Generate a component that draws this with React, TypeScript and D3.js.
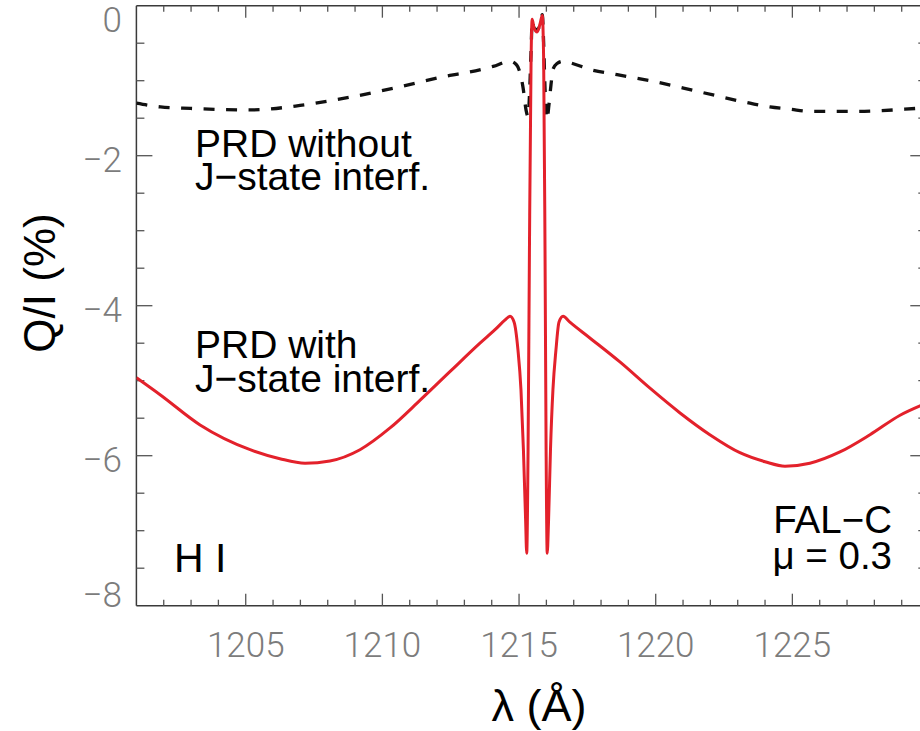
import React, { useEffect, useRef } from "react";
import * as d3 from "d3";

// wavelength grid (Å) and Q/I (%)
const redLambda = [
  1201.0, 1201.88, 1203.33, 1205.16, 1206.25, 1207.17, 1208.08, 1209.18, 1210.28,
  1211.38, 1212.47, 1213.57, 1214.12, 1214.49, 1214.67, 1214.82, 1214.96, 1215.07,
  1215.16, 1215.24, 1215.28, 1215.33, 1215.38, 1215.44, 1215.48, 1215.55, 1215.66,
  1215.77, 1215.85, 1215.9, 1215.95, 1215.99, 1216.03, 1216.08, 1216.15, 1216.24,
  1216.35, 1216.46, 1216.61, 1216.86, 1217.59, 1218.69, 1219.79, 1220.89, 1221.98,
  1223.08, 1224.0, 1224.73, 1225.64, 1226.74, 1227.84, 1228.94, 1229.9,
];
const redQI = [
  -4.96, -5.19, -5.59, -5.92, -6.04, -6.1, -6.07, -5.92, -5.63,
  -5.26, -4.88, -4.5, -4.32, -4.19, -4.14, -4.22, -4.59, -5.12,
  -5.92, -6.86, -7.3, -5.92, -3.26, -0.72, -0.18, -0.3, -0.35,
  -0.24, -0.13, -0.72, -3.26, -5.92, -7.3, -6.86, -5.92, -5.12,
  -4.59, -4.22, -4.14, -4.22, -4.43, -4.75, -5.1, -5.43, -5.72,
  -5.96, -6.08, -6.14, -6.1, -5.95, -5.72, -5.46, -5.3,
];

const dashLambda = [
  1201.0, 1201.88, 1202.98, 1205.16, 1206.99, 1208.82, 1210.65, 1212.47, 1213.1,
  1214.05, 1214.67, 1214.91, 1215.04, 1215.15, 1215.26, 1215.33, 1215.38, 1215.44,
  1215.48, 1215.55, 1215.66, 1215.77, 1215.85, 1215.9, 1215.95, 1216.02, 1216.1,
  1216.17, 1216.24, 1216.39, 1216.61, 1216.75, 1217.7, 1218.59, 1219.79, 1221.62,
  1223.45, 1224.18, 1224.91, 1225.64, 1226.37, 1227.29, 1228.2, 1229.11, 1229.9,
];
const dashQI = [
  -1.3, -1.35, -1.37, -1.39, -1.33, -1.22, -1.08, -0.93, -0.89,
  -0.81, -0.74, -0.79, -0.9, -1.1, -1.4, -1.48, -1.2, -0.6,
  -0.2, -0.3, -0.32, -0.25, -0.12, -0.5, -1.1, -1.52, -1.3,
  -1.05, -0.85, -0.77, -0.74, -0.75, -0.86, -0.92, -1.0, -1.15,
  -1.3, -1.35, -1.38, -1.41, -1.41, -1.41, -1.4, -1.38, -1.36,
];

const xTicks = [1205, 1210, 1215, 1220, 1225];
const yTicks = [0, -2, -4, -6, -8];

const W = 920;
const H = 731;

const App = () => {
  const ref = useRef<SVGSVGElement | null>(null);

  useEffect(() => {
    const svg = d3.select(ref.current);
    svg.selectAll("*").remove();

    const left = 136.4,
      right = 926.3,
      top = 5.7,
      bottom = 605.7;

    const x = d3.scaleLinear().domain([1201, 1229.9]).range([left, right]);
    const y = d3.scaleLinear().domain([-8, 0]).range([bottom, top]);

    const axisColor = "#3a3a3a";
    const labelFont = "Roboto, 'Open Sans', 'Liberation Sans', sans-serif";
    const textFont = "'Liberation Sans', Arial, sans-serif";

    // frame
    const frame = svg.append("g").attr("stroke", axisColor).attr("stroke-width", 1.5);
    frame.append("line").attr("x1", left).attr("x2", right).attr("y1", top).attr("y2", top);
    frame.append("line").attr("x1", left).attr("x2", right).attr("y1", bottom).attr("y2", bottom);
    frame.append("line").attr("x1", left).attr("x2", left).attr("y1", top).attr("y2", bottom);
    frame.append("line").attr("x1", right).attr("x2", right).attr("y1", top).attr("y2", bottom);

    // x ticks (bottom + top, pointing inward)
    const xMinor = d3.range(1202, 1230, 1);
    const ticks = svg.append("g").attr("stroke", "#555").attr("stroke-width", 1.3);
    xMinor.forEach((v) => {
      const len = v % 5 === 0 ? 12 : 6;
      ticks.append("line").attr("x1", x(v)).attr("x2", x(v)).attr("y1", bottom).attr("y2", bottom - len);
      ticks.append("line").attr("x1", x(v)).attr("x2", x(v)).attr("y1", top).attr("y2", top + len);
    });

    // y ticks (left + right)
    const yMinor = d3.range(-7.5, 0, 0.5);
    yMinor.forEach((v) => {
      const len = v % 2 === 0 ? 16 : 8;
      ticks.append("line").attr("x1", left).attr("x2", left + len).attr("y1", y(v)).attr("y2", y(v));
      ticks.append("line").attr("x1", right).attr("x2", right - len).attr("y1", y(v)).attr("y2", y(v));
    });

    // tick labels
    svg
      .append("g")
      .selectAll("text")
      .data(xTicks)
      .enter()
      .append("text")
      .attr("x", (d) => x(d))
      .attr("y", 657)
      .attr("text-anchor", "middle")
      .attr("font-family", labelFont)
      .attr("font-weight", 300)
      .attr("font-size", 35)
      .attr("fill", "#7c7c7c")
      .text((d) => String(d));

    svg
      .append("g")
      .selectAll("text")
      .data(yTicks)
      .enter()
      .append("text")
      .attr("x", 122)
      .attr("y", (d) => Math.max(19, Math.min(594, y(d) + 4)))
      .attr("dy", "0.36em")
      .attr("text-anchor", "end")
      .attr("font-family", labelFont)
      .attr("font-weight", 300)
      .attr("font-size", 35)
      .attr("fill", "#7c7c7c")
      .text((d) => (d === 0 ? "0" : "\u2212" + Math.abs(d)));

    // curves
    const plot = svg.append("g");
    plot
      .append("clipPath")
      .attr("id", "clip")
      .append("rect")
      .attr("x", left)
      .attr("y", top)
      .attr("width", right - left)
      .attr("height", bottom - top);

    const dashLine = d3
      .line<number>()
      .curve(d3.curveMonotoneX)
      .x((d) => x(d))
      .y((d, i) => y(dashQI[i]));

    const redLine = d3
      .line<number>()
      .curve(d3.curveMonotoneX)
      .x((d) => x(d))
      .y((d, i) => y(redQI[i]));

    plot
      .append("path")
      .attr("clip-path", "url(#clip)")
      .attr("fill", "none")
      .attr("stroke", "#111")
      .attr("stroke-width", 3.3)
      .attr("stroke-dasharray", "11,11.5")
      .attr("d", dashLine(dashLambda));

    plot
      .append("path")
      .attr("clip-path", "url(#clip)")
      .attr("fill", "none")
      .attr("stroke", "#e3212b")
      .attr("stroke-width", 3)
      .attr("stroke-linejoin", "round")
      .attr("d", redLine(redLambda));

    // annotations
    const notes = [
      { t: "PRD without", x: 195, y: 157, a: "start", s: 39 },
      { t: "J\u2212state interf.", x: 195, y: 190, a: "start", s: 39 },
      { t: "PRD with", x: 195, y: 358, a: "start", s: 39 },
      { t: "J\u2212state interf.", x: 195, y: 392, a: "start", s: 39 },
      { t: "FAL\u2212C", x: 892, y: 533, a: "end", s: 38.5 },
      { t: "\u03bc = 0.3", x: 892, y: 569, a: "end", s: 38.5 },
    ];
    svg
      .append("g")
      .selectAll("text")
      .data(notes)
      .enter()
      .append("text")
      .attr("x", (d) => d.x)
      .attr("y", (d) => d.y)
      .attr("text-anchor", (d) => d.a)
      .attr("font-family", textFont)
      .attr("font-size", (d) => d.s)
      .attr("fill", "#000")
      .text((d) => d.t);

    svg
      .append("text")
      .attr("x", 174)
      .attr("y", 572)
      .attr("font-family", textFont)
      .attr("font-size", 41)
      .attr("fill", "#000")
      .text("H I");

    // axis titles
    svg
      .append("text")
      .attr("transform", "translate(55,283) rotate(-90)")
      .attr("text-anchor", "middle")
      .attr("font-family", textFont)
      .attr("font-size", 44)
      .attr("fill", "#000")
      .text("Q/I (%)");

    svg
      .append("text")
      .attr("x", 539)
      .attr("y", 721)
      .attr("text-anchor", "middle")
      .attr("font-family", textFont)
      .attr("font-size", 45)
      .attr("fill", "#000")
      .text("\u03bb (\u00c5)");
  }, []);

  return (
    <svg
      ref={ref}
      width={W}
      height={H}
      style={{ position: "absolute", left: 0, top: 0, background: "#fff" }}
    ></svg>
  );
};

export default App;
